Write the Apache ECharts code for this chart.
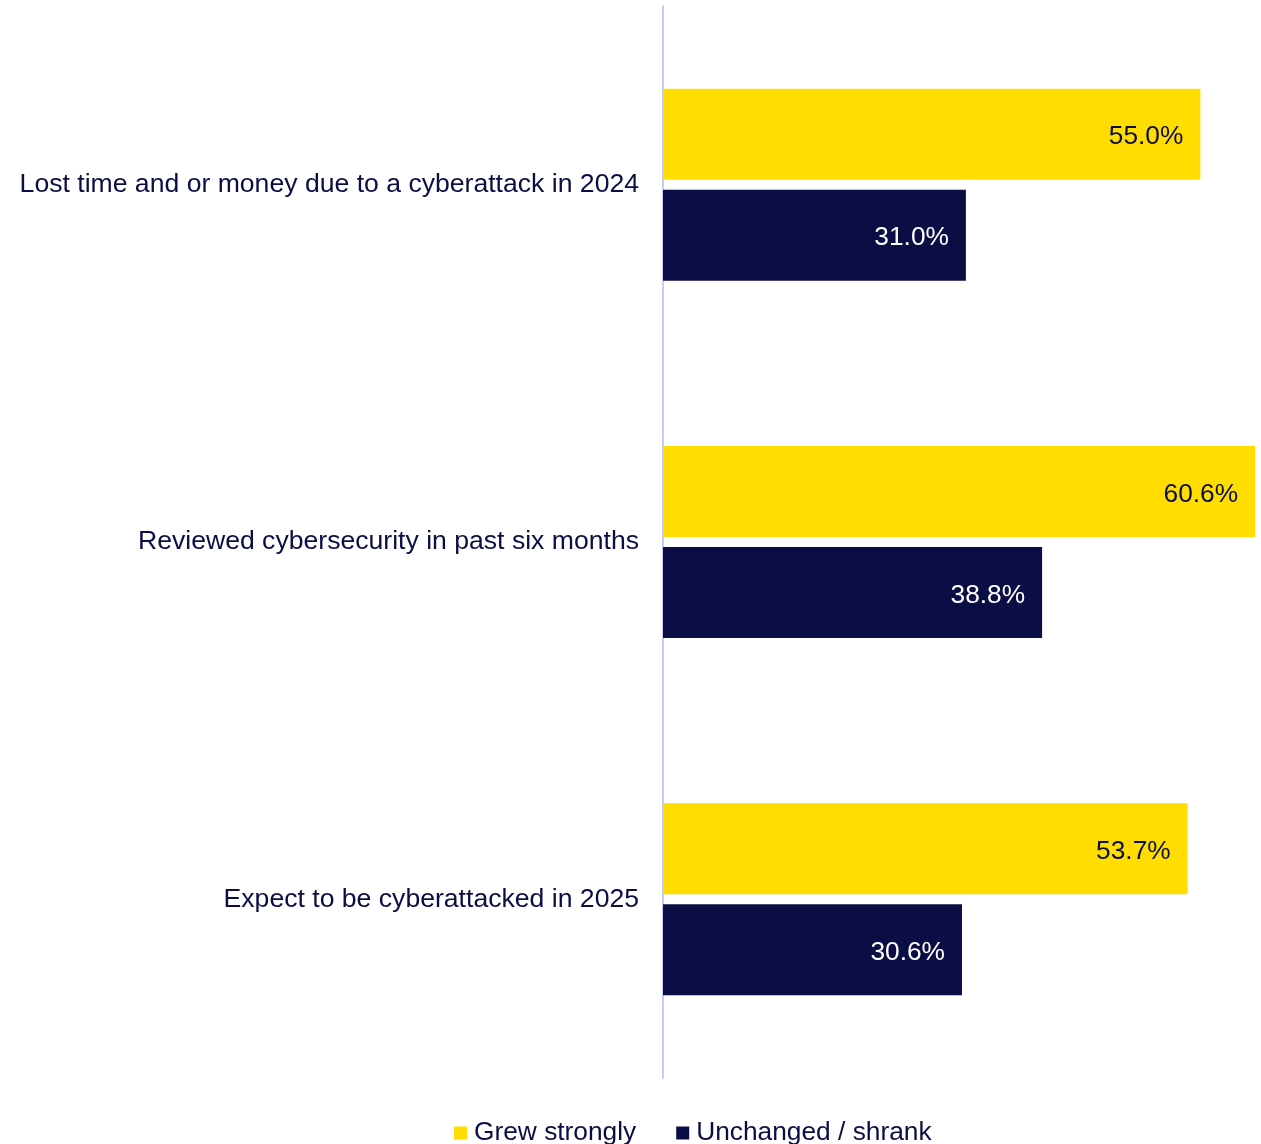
<!DOCTYPE html>
<html>
<head>
<meta charset="utf-8">
<script src="https://cdn.jsdelivr.net/npm/echarts@6/dist/echarts.min.js"></script>
<style>
  html, body { margin: 0; padding: 0; background: #ffffff; }
  #chart { width: 1261px; height: 1144px; }
</style>
</head>
<body>
<div id="chart"></div>
<script>
// Survey statements (top to bottom)
const categories = [
  'Lost time and or money due to a cyberattack in 2024',
  'Reviewed cybersecurity in past six months',
  'Expect to be cyberattacked in 2025'
];
// Share of respondents (%) by business performance
const grewStrongly = [55.0, 60.6, 53.7];
const unchangedShrank = [31.0, 38.8, 30.6];
const seriesNames = ['Grew strongly', 'Unchanged / shrank'];

const YELLOW = '#FFDD00';
const NAVY = '#0B0E45';
const FONT = '"Liberation Sans", Arial, sans-serif';

const chart = echarts.init(document.getElementById('chart'), null, { renderer: 'canvas' });

const labelStyle = (color) => ({
  show: true,
  position: 'insideRight',
  distance: 17,
  offset: [0, 3],
  color: color,
  fontSize: 26.3,
  fontFamily: FONT,
  formatter: (p) => p.value.toFixed(1) + '%'
});

chart.setOption({
  animation: false,
  backgroundColor: '#ffffff',
  grid: { left: 663, right: 2, top: 6, bottom: 66, containLabel: false },
  legend: {
    data: seriesNames,
    top: 1115,
    left: 449,
    icon: 'rect',
    itemWidth: 13,
    itemHeight: 13,
    itemGap: 40,
    textStyle: { color: NAVY, fontSize: 26.3, fontFamily: FONT, padding: [2, 0, 0, 2] }
  },
  xAxis: {
    type: 'value',
    min: 0,
    max: 61,
    show: false,
    splitLine: { show: false }
  },
  yAxis: {
    type: 'category',
    data: categories,
    inverse: true,
    axisLine: { show: true, lineStyle: { color: '#c8ccf4', width: 2 } },
    axisTick: { show: false },
    axisLabel: {
      color: NAVY,
      fontSize: 26.6,
      fontFamily: FONT,
      margin: 24,
      padding: [9, 0, 0, 0]
    }
  },
  series: [
    {
      name: seriesNames[0],
      type: 'bar',
      data: grewStrongly,
      barWidth: 91,
      barGap: '11%',
      itemStyle: { color: YELLOW },
      label: labelStyle(NAVY)
    },
    {
      name: seriesNames[1],
      type: 'bar',
      data: unchangedShrank,
      barWidth: 91,
      itemStyle: { color: NAVY },
      label: labelStyle('#ffffff')
    }
  ]
});
</script>
</body>
</html>
